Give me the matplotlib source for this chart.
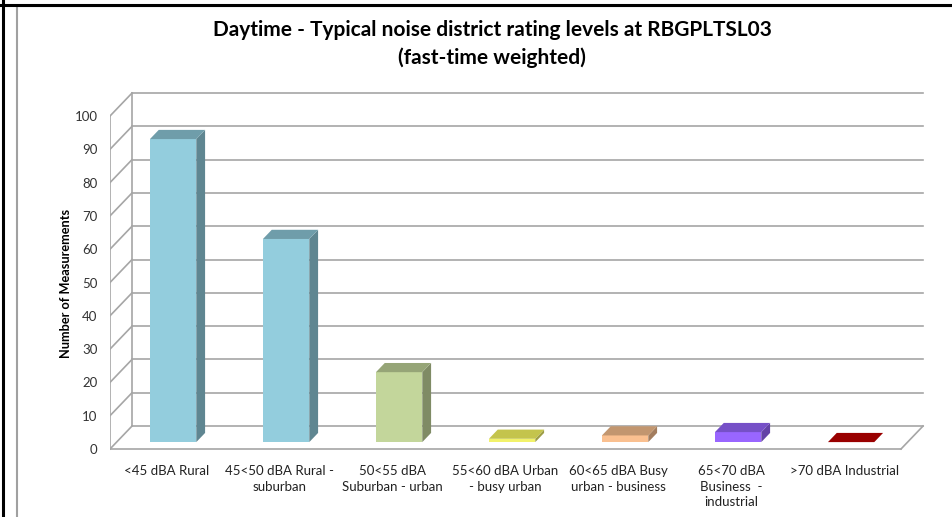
import matplotlib.pyplot as plt
from matplotlib.patches import Polygon, Rectangle
from matplotlib.lines import Line2D

plt.rcParams['font.family'] = ['Lato', 'DejaVu Sans']

categories = ['<45 dBA Rural', '45<50 dBA Rural -\nsuburban', '50<55 dBA\nSuburban - urban',
              '55<60 dBA Urban\n- busy urban', '60<65 dBA Busy\nurban - business',
              '65<70 dBA\nBusiness  -\nindustrial', '>70 dBA Industrial']
counts = [91, 61, 21, 1, 2, 3, 0]
front_colors = ['#93cddd', '#93cddd', '#c3d69b', '#f2f26a', '#fac090', '#9966ff', '#c00000']
side_colors = ['#5f8691', '#5f8691', '#7f8b65', '#9d9d45', '#a37d5e', '#6342a6', '#7c0000']
top_colors = ['#6f9daa', '#6f9daa', '#96a577', '#c4c44c', '#c2966f', '#7650c7', '#990000']
yticks = list(range(0, 101, 10))

# fake 3d depth (data units)
dx, dy = 0.195, 6.9
grid_col = '#a6a6a6'

fig = plt.figure(figsize=(9.52, 5.17), dpi=100)
W, H = 952, 517
px_x = 113.0     # pixels per category
px_y = 3.33      # pixels per count
x0, x1 = -0.5, 6.72
y0, y1 = -1.2, 108
left = 110 / W
bottom = (517 - 449 + y0 * px_y) / H
ax = fig.add_axes([left, bottom, (x1 - x0) * px_x / W, (y1 - y0) * px_y / H])
ax.set_xlim(x0, x1)
ax.set_ylim(y0, y1)
for s in ax.spines.values():
    s.set_visible(False)
ax.patch.set_alpha(0)

# page frame
fig.add_artist(Line2D([3 / W, 3 / W], [0, 1], color='black', lw=2.2, transform=fig.transFigure))
fig.add_artist(Line2D([0, 1], [1 - 5 / H, 1 - 5 / H], color='black', lw=2.2, transform=fig.transFigure))
fig.add_artist(Rectangle((17 / W, -0.1), 1.0, 1 - 6 / H + 0.1, fill=False, ec='#a0a0a0', lw=1.5,
                         transform=fig.transFigure))

xl, xr = -0.5, 6.5
lw = 1.2
# back wall gridlines and left wall diagonals
for v in yticks:
    ax.plot([xl + dx, xr + dx], [v + dy, v + dy], color=grid_col, lw=lw, zorder=1)
    ax.plot([xl, xl + dx], [v, v + dy], color=grid_col, lw=lw, zorder=1)
ax.plot([xl + dx, xl + dx], [dy, 100 + dy], color=grid_col, lw=lw, zorder=1)
ax.plot([xl, xl], [0, 100], color=grid_col, lw=lw, zorder=1)
# floor
ax.plot([xl, xr], [0, 0], color=grid_col, lw=lw, zorder=1)
ax.plot([xr, xr + dx], [0, dy], color=grid_col, lw=lw, zorder=1)

# bars
bw = 0.41
fx, fy = 0.3 * dx, 0.3 * dy
bx, by = 0.4 * dx, 0.4 * dy
for i, v in enumerate(counts):
    l = i + fx - bw / 2
    r = i + fx + bw / 2
    if v > 0:
        ax.bar(i + fx, v, width=bw, bottom=fy, color=front_colors[i], zorder=3)
        ax.add_patch(Polygon([(r, fy), (r, fy + v), (r + bx, fy + v + by), (r + bx, fy + by)],
                             closed=True, fc=side_colors[i], ec='none', zorder=3))
    ax.add_patch(Polygon([(l, fy + v), (r, fy + v), (r + bx, fy + v + by), (l + bx, fy + v + by)],
                         closed=True, fc=top_colors[i], ec='none', zorder=3))

ax.set_yticks(yticks)
ax.set_yticklabels([str(t) for t in yticks], fontsize=9.5, color='#333333')
ax.set_xticks(range(len(categories)))
ax.set_xticklabels(categories, fontsize=9.5, color='#222222', linespacing=1.35)
ax.tick_params(axis='both', length=0)
ax.tick_params(axis='y', pad=9)
ax.tick_params(axis='x', pad=9)
ax.set_ylabel('Number of Measurements', fontsize=9.2, fontweight='bold')
ax.yaxis.set_label_coords(-0.046, 0.4675)

fig.text(492 / W, 1 - 44 / H, 'Daytime - Typical noise district rating levels at RBGPLTSL03\n(fast-time weighted)',
         ha='center', va='center', fontsize=15, fontweight='bold', linespacing=1.4)

fig.savefig('out.png', dpi=100)
